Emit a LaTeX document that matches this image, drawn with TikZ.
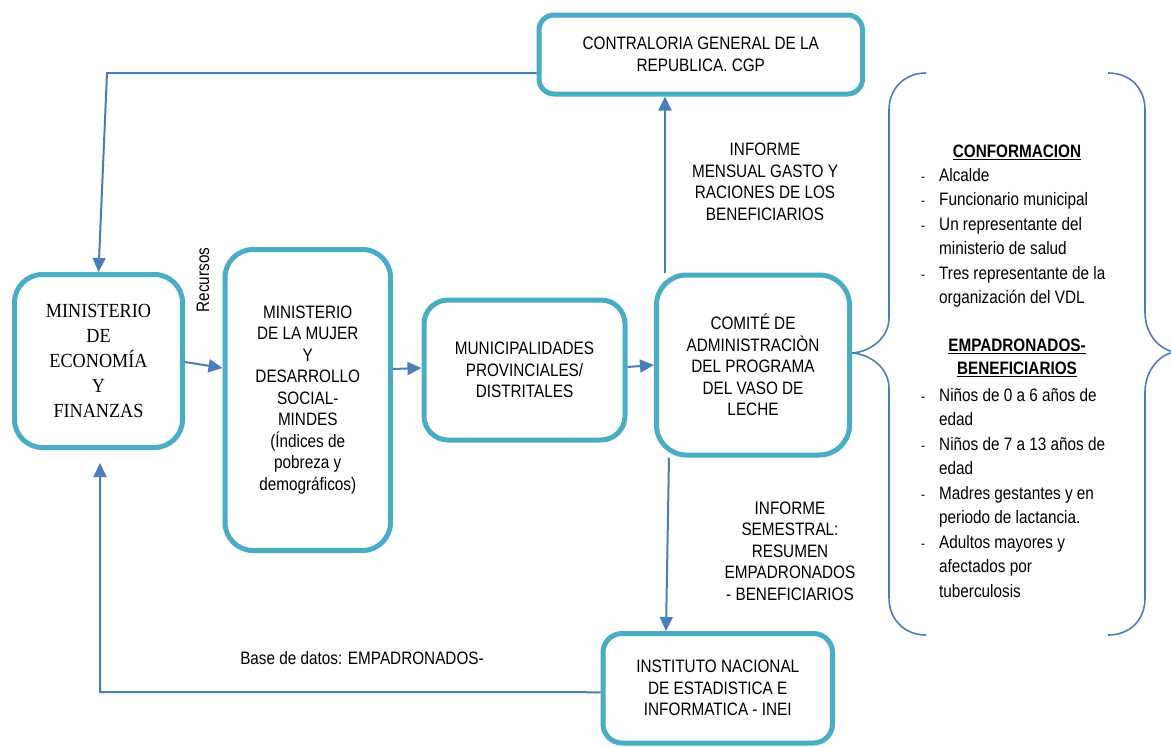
\documentclass[tikz,border=0pt]{standalone}
\usepackage{fontspec}
\setmainfont{Liberation Sans}[FakeStretch=0.85]
\newfontfamily\timesc{Liberation Serif}[FakeStretch=0.91]
\usetikzlibrary{arrows.meta,calc}
\definecolor{boxc}{HTML}{4BACC6}
\definecolor{arrc}{HTML}{4A7EBB}
\newcommand\dashitem{\makebox[18pt][l]{\fontsize{14}{14}\selectfont -}}
\newcommand\indentitem{\hspace*{18pt}}
\tikzset{
  box/.style={draw=boxc, line width=5pt, rectangle, align=center,
    font=\fontsize{18}{21.5}\selectfont, inner sep=2pt},
  arr/.style={draw=arrc, line width=2pt, -{Triangle[length=14pt,width=13pt]}},
  lbl/.style={align=center, font=\fontsize{18}{21.5}\selectfont, inner sep=0pt},
  lst/.style={align=left, font=\fontsize{18}{24.5}\selectfont, inner sep=0pt, anchor=west},
  hdr/.style={align=center, font=\bfseries\fontsize{18}{23}\selectfont, inner sep=0pt},
  brace/.style={draw=arrc, line width=1.6pt},
}
\begin{document}
\begin{tikzpicture}[x=1pt,y=-1pt]
\useasboundingbox (0,0) rectangle (1171,747);
\clip (0,0) rectangle (1171,747);
\fill[white] (0,0) rectangle (1171,747);

% boxes
\node[box, minimum width=168pt, minimum height=173pt, rounded corners=28pt,
  font=\timesc\fontsize{20}{25}\selectfont] (mef) at (98.5,361)
  {MINISTERIO\\DE\\ECONOMÍA\\Y\\FINANZAS};
\node[box, minimum width=165.5pt, minimum height=301pt, rounded corners=28pt] (mindes) at (307.75,400)
  {MINISTERIO\\DE LA MUJER\\Y\\DESARROLLO\\SOCIAL-\\MINDES\\(Índices de\\pobreza y\\demográficos)};
\node[box, minimum width=201pt, minimum height=140pt, rounded corners=24pt] (muni) at (524.5,370)
  {MUNICIPALIDADES\\PROVINCIALES/\\DISTRITALES};
\node[box, minimum width=193pt, minimum height=180pt, rounded corners=30pt] (comite) at (753,365)
  {COMITÉ DE\\ADMINISTRACIÒN\\DEL PROGRAMA\\DEL VASO DE\\LECHE};
\node[box, minimum width=323.5pt, minimum height=79pt, rounded corners=15pt] (contra) at (700.75,54.5)
  {CONTRALORIA GENERAL DE LA\\REPUBLICA. CGP};
\node[box, minimum width=229.5pt, minimum height=109.5pt, rounded corners=19pt] (inei) at (717.75,688.25)
  {INSTITUTO NACIONAL\\DE ESTADISTICA E\\INFORMATICA - INEI};

% labels
\node[lbl] (inf1) at (765,182) {INFORME\\MENSUAL GASTO Y\\RACIONES DE LOS\\BENEFICIARIOS};
\node[lbl] (inf2) at (790,551) {INFORME\\SEMESTRAL:\\RESUMEN\\EMPADRONADOS\\- BENEFICIARIOS};
\node[lbl] (bd) at (362,658) {Base de datos: EMPADRONADOS-};
\node[lbl, rotate=90] (rec) at (203,280) {Recursos};

% connectors
\coordinate (c1) at (107,73);
\coordinate (c2) at (100,692);
\draw[arr] ($(contra.west)+(0,18.5)$) -- (c1) -- (mef.north);
\draw[arr] ($(inei.west)+(0,4)$) -- (c2) -- ($(mef.south)+(1.5,13)$);
\draw[arr] ($(mef.east)+(0,1)$) -- ($(mindes.west)+(0,-32)$);
\draw[arr] ($(mindes.east)+(0,-31)$) -- ($(muni.west)+(0,-2)$);
\draw[arr] ($(muni.east)+(0,-3)$) -- (comite.west);
\draw[arr] ($(comite.north)+(-88,0)$) -- ($(contra.south)+(-35.75,0)$);
\draw[arr] ($(comite.south)+(-84,0)$) -- ($(inei.north)+(-51.75,0)$);

% braces
\draw[brace] (926,73) .. controls (905,73) and (889,88) .. (889,110) -- (889,318)
  .. controls (889,338) and (870,352) .. (852,353)
  .. controls (870,354) and (889,368) .. (889,388) -- (889,598)
  .. controls (889,620) and (905,635) .. (926,635);
\draw[brace] (1108,73) .. controls (1130,73) and (1145,88) .. (1145,110) -- (1145,312)
  .. controls (1145,335) and (1160,350) .. (1175,352)
  .. controls (1160,354) and (1145,370) .. (1145,392) -- (1145,598)
  .. controls (1145,620) and (1130,635) .. (1108,635);

% right column text
\node[hdr] (conf) at (1017,152) {\underline{CONFORMACION}};
\node[lst] (l1) at (921,238) {\dashitem Alcalde\\
  \dashitem Funcionario municipal\\
  \dashitem Un representante del\\
  \indentitem ministerio de salud\\
  \dashitem Tres representante de la\\
  \indentitem organización del VDL};
\node[hdr] (emp) at (1017,357.5) {\underline{EMPADRONADOS-}\\\underline{BENEFICIARIOS}};
\node[lst] (l2) at (921,493) {\dashitem Niños de 0 a 6 años de\\
  \indentitem edad\\
  \dashitem Niños de 7 a 13 años de\\
  \indentitem edad\\
  \dashitem Madres gestantes y en\\
  \indentitem periodo de lactancia.\\
  \dashitem Adultos mayores y\\
  \indentitem afectados por\\
  \indentitem tuberculosis};
\end{tikzpicture}
\end{document}
